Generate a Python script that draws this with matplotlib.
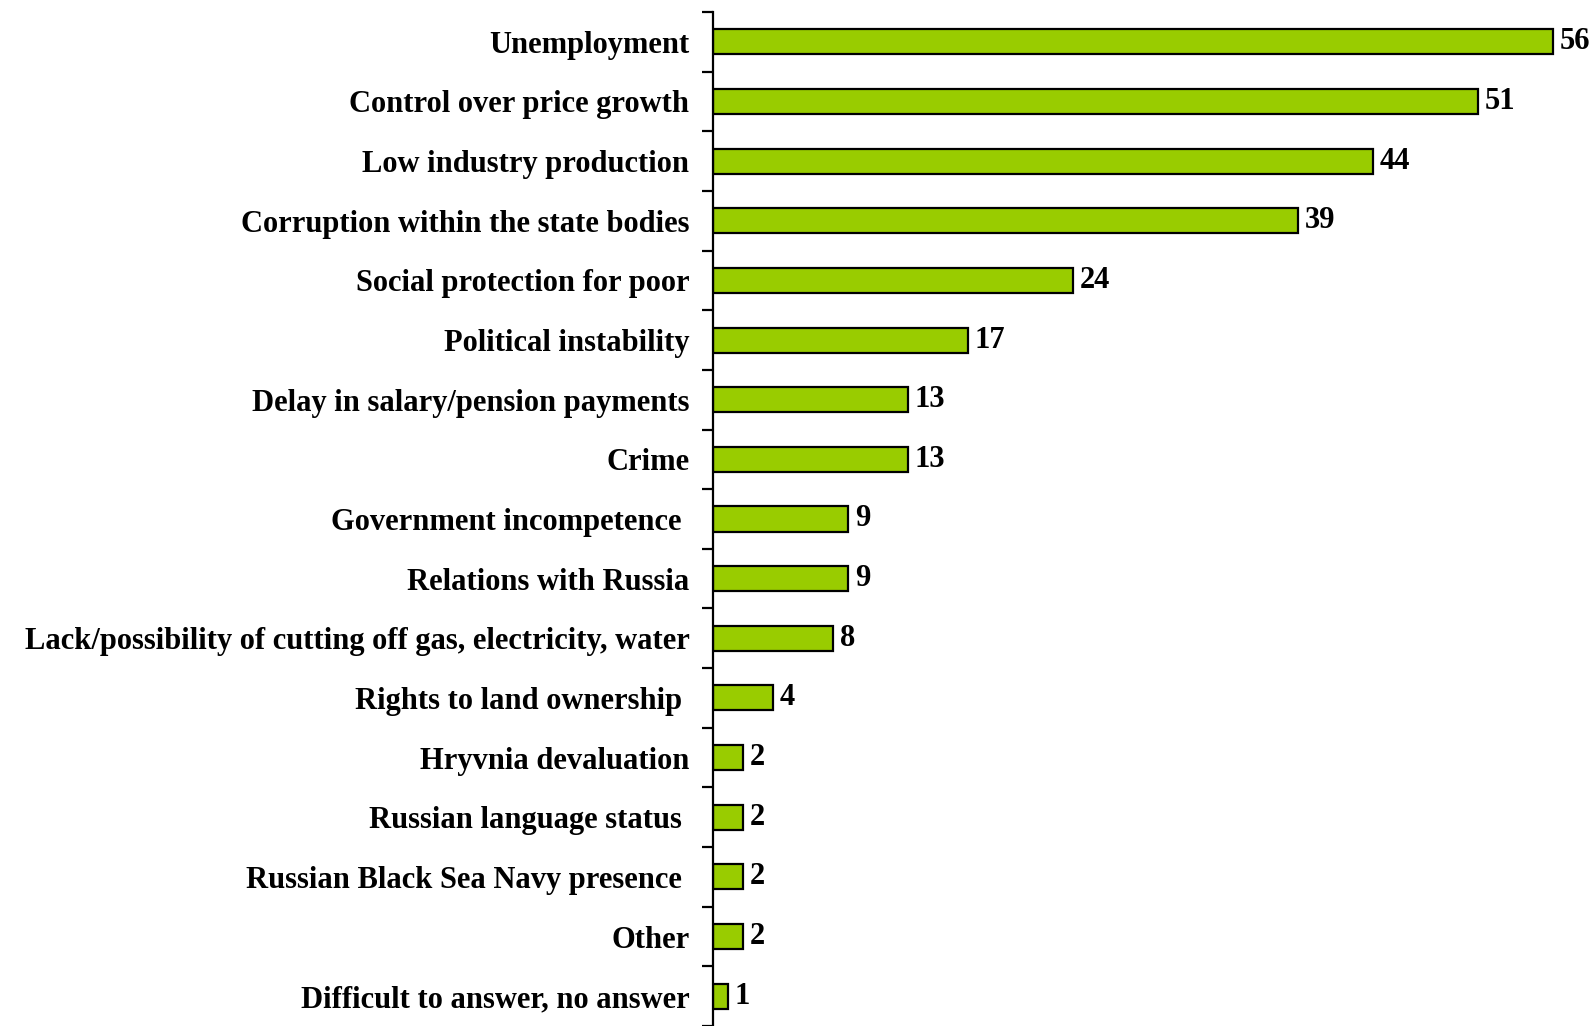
import matplotlib
matplotlib.use("Agg")
import matplotlib.pyplot as plt
import numpy as np

categories = [
    "Unemployment",
    "Control over price growth",
    "Low industry production",
    "Corruption within the state bodies",
    "Social protection for poor",
    "Political instability",
    "Delay in salary/pension payments",
    "Crime",
    "Government incompetence ",
    "Relations with Russia",
    "Lack/possibility of cutting off gas, electricity, water",
    "Rights to land ownership ",
    "Hryvnia devaluation",
    "Russian language status ",
    "Russian Black Sea Navy presence ",
    "Other",
    "Difficult to answer, no answer",
]
values = [56, 51, 44, 39, 24, 17, 13, 13, 9, 9, 8, 4, 2, 2, 2, 2, 1]

plt.rcParams['font.family'] = ['Liberation Serif', 'DejaVu Serif']

fig = plt.figure(figsize=(15.94, 10.26), dpi=100)
ax = fig.add_axes([713/1594, 0.0, 1 - 713/1594 - 0.006, 1 - 12/1026])

y = np.arange(len(categories))
ax.barh(y, values, height=0.42, color="#99CC00", edgecolor="black", linewidth=1.6)

for yi, v in zip(y, values):
    ax.text(v + 0.45, yi, str(v), va="center", ha="left", fontsize=22, fontweight="bold")

ax.set_xlim(0, 58.1)
ax.set_ylim(16.46, -0.5)

ax.set_yticks(y)
ax.set_yticklabels(categories, fontsize=22, fontweight="bold")
ax.tick_params(axis="y", which="major", length=0, pad=17)
ax.set_yticks(np.arange(-0.5, len(categories), 1.0), minor=True)
ax.tick_params(axis="y", which="minor", length=8, width=1.6, direction="out")

ax.set_xticks([])
for s in ["top", "right", "bottom"]:
    ax.spines[s].set_visible(False)
ax.spines["left"].set_linewidth(1.6)

fig.savefig("out.png", dpi=100)
